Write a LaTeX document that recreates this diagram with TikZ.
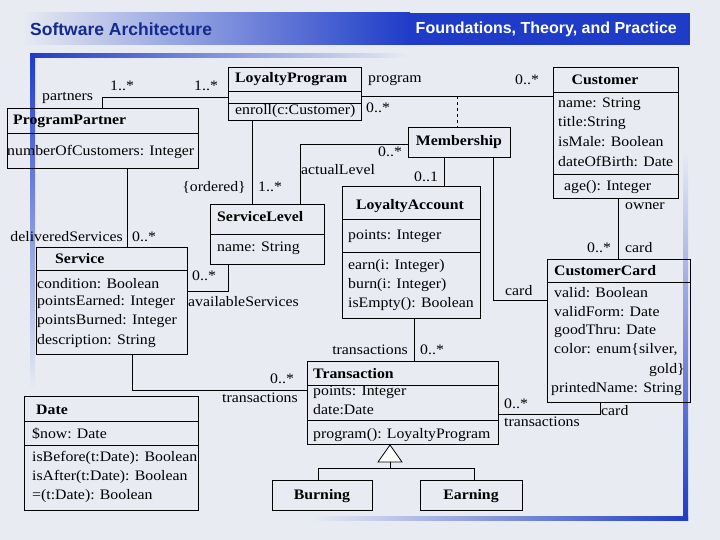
\documentclass[tikz,border=0pt]{standalone}
\usepackage{fontspec}
\setmainfont[FakeStretch=1.09]{Liberation Serif}
\newfontfamily\hdr{Liberation Sans}
\definecolor{bg}{HTML}{E8ECF2}
\definecolor{fb}{HTML}{1E3CC8}
\begin{document}
\begin{tikzpicture}[x=1pt,y=-1pt,
  box/.style={draw,line width=0.8pt,anchor=north west,inner sep=0pt,outer sep=0pt},
  ln/.style={line width=0.8pt},
  t/.style={anchor=west,inner sep=0pt,font=\fontsize{14.5}{16}\selectfont},
  tr/.style={anchor=east,inner sep=0pt,font=\fontsize{14.5}{16}\selectfont},
  tb/.style={t,font=\fontsize{14.5}{16}\selectfont\bfseries},
  tc/.style={inner sep=0pt,font=\fontsize{14.5}{16}\selectfont\bfseries}]
\fill[bg] (0,0) rectangle (720,540);
\useasboundingbox (0,0) rectangle (720,540);
% header
\shade[left color=bg,right color=fb] (20,13) rectangle (410,45);
\fill[fb] (409,13) rectangle (690,45);
\node[anchor=west,inner sep=0pt,text=fb!70!black,font=\hdr\bfseries\fontsize{17.5}{19}\selectfont] (t1) at (30,29) {Software Architecture};
\node[anchor=east,inner sep=0pt,text=white,font=\hdr\bfseries\fontsize{16}{18}\selectfont] (t2) at (677,29) {Foundations, Theory, and Practice};
% frame
\shade[left color=fb,right color=bg] (30,54) rectangle (410,58);
\shade[top color=fb,bottom color=bg] (30,54) rectangle (35,390);
\shade[top color=bg,bottom color=fb] (683,150) rectangle (688,520);
\shade[left color=bg,right color=fb] (310,516) rectangle (688,520);
% boxes
\node[box,minimum width=133,minimum height=53] (lp) at (228,67) {};
\draw[ln] (228,91) -- (361,91) (228,103) -- (361,103);
\node[tb] at (235,79) {LoyaltyProgram};
\node[t] at (235,111) {enroll(c:Customer)};

\node[box,minimum width=191,minimum height=60] (pp) at (7,108) {};
\draw[ln] (7,133) -- (198,133);
\node[tb] at (13,121) {ProgramPartner};
\node[t] at (7,152) {numberOfCustomers: Integer};

\node[box,minimum width=151,minimum height=107] (sv) at (36,247) {};
\draw[ln] (36,270) -- (187,270);
\node[tb] at (55,259) {Service};
\node[t] at (37,284) {condition: Boolean};
\node[t] at (37,302) {pointsEarned: Integer};
\node[t] at (37,321) {pointsBurned: Integer};
\node[t] at (37,341) {description: String};

\node[box,minimum width=114,minimum height=60] (sl) at (210,204) {};
\draw[ln] (210,234) -- (324,234);
\node[tb] at (217,217) {ServiceLevel};
\node[t] at (217,248) {name: String};

\node[box,minimum width=102,minimum height=30] (ms) at (408,127) {};
\node[tc] at (459,142) {Membership};

\node[box,minimum width=125,minimum height=131] (cu) at (553,67) {};
\draw[ln] (553,92) -- (678,92) (553,174) -- (678,174);
\node[tc] at (605,80) {Customer};
\node[t] at (558,104) {name: String};
\node[t] at (558,123) {title:String};
\node[t] at (558,142) {isMale: Boolean};
\node[t] at (558,161) {dateOfBirth: Date};
\node[t] at (564,187) {age(): Integer};

\node[box,minimum width=138,minimum height=132] (la) at (342,186) {};
\draw[ln] (342,219) -- (480,219) (342,252) -- (480,252);
\node[tc] at (410,206) {LoyaltyAccount};
\node[t] at (348,236) {points: Integer};
\node[t] at (348,266) {earn(i: Integer)};
\node[t] at (348,285) {burn(i: Integer)};
\node[t] at (348,304) {isEmpty(): Boolean};

\node[box,minimum width=143,minimum height=143] (cc) at (547,259) {};
\draw[ln] (547,282) -- (690,282);
\node[tb] at (554,271) {CustomerCard};
\node[t] at (554,293) {valid: Boolean};
\node[t] at (554,312) {validForm: Date};
\node[t] at (554,331) {goodThru: Date};
\node[t] at (554,350) {color: enum\{silver,};
\node[tr] at (685,370) {gold\}};
\node[t] at (551,389) {printedName: String};

\node[box,minimum width=191,minimum height=83] (tr) at (307,361) {};
\draw[ln] (307,385) -- (498,385) (307,420) -- (498,420);
\node[tb] at (313,374) {Transaction};
\node[t] at (313,392) {points: Integer};
\node[t] at (313,410) {date:Date};
\node[t] at (313,435) {program(): LoyaltyProgram};

\node[box,minimum width=174,minimum height=114] (dt) at (24,396) {};
\draw[ln] (24,421) -- (198,421) (24,445) -- (198,445);
\node[tb] at (36,410) {Date};
\node[t] at (32,434) {\$now: Date};
\node[t] at (32,458) {isBefore(t:Date): Boolean};
\node[t] at (32,477) {isAfter(t:Date): Boolean};
\node[t] at (32,496) {=(t:Date): Boolean};

\node[box,minimum width=100,minimum height=30] (bu) at (272,480) {};
\node[tc] at (322,496) {Burning};
\node[box,minimum width=102,minimum height=30] (ea) at (420,480) {};
\node[tc] at (471,496) {Earning};

% connectors
\coordinate (pa) at (102,97);
\draw[ln] (pp.north west) ++(95,0) |- (lp.west |- pa);
\node[t] at (42,98) {partners};
\node[t] at (110,86) {1..*};
\node[t] at (194,86) {1..*};

\draw[ln] (127,168) -- (127,247);
\node[tr] at (123,237) {deliveredServices};
\node[t] at (132,237) {0..*};

\draw[ln] (252,120) -- (252,204);
\node[tr] at (246,187) {\{ordered\}};
\node[t] at (258,187) {1..*};

\draw[ln] (228,264) |- (187,291);
\node[t] at (192,276) {0..*};
\node[t] at (188,302) {availableServices};

\draw[ln] (300,204) |- (408,144);
\node[t] at (301,170) {actualLevel};
\node[t] at (378,152) {0..*};

\draw[ln] (361,96) -- (553,96);
\draw[ln,dashed] (457,96) -- (457,127);
\node[t] at (368,80) {program};
\node[t] at (366,108) {0..*};
\node[t] at (515,80) {0..*};

\draw[ln] (444,157) -- (444,186);
\node[t] at (414,177) {0..1};

\draw[ln] (493,157) |- (547,300);
\node[t] at (505,291) {card};

\draw[ln] (618,198) -- (618,259);
\node[t] at (625,206) {owner};
\node[t] at (587,248) {0..*};
\node[t] at (625,248) {card};

\draw[ln] (414,318) -- (414,361);
\node[tr] at (408,350) {transactions};
\node[t] at (420,350) {0..*};

\draw[ln] (498,414) -| (600,402);
\node[t] at (504,404) {0..*};
\node[t] at (504,422) {transactions};
\node[t] at (601,411) {card};

\draw[ln] (132,354) |- (307,390);
\node[t] at (270,379) {0..*};
\node[t] at (222,398) {transactions};

% generalization
\draw[ln,fill=white] (390,445) -- (402,462) -- (378,462) -- cycle;
\draw[ln] (390,462) -- (390,468) (318,480) |- (474,468) -- (474,480);
\end{tikzpicture}
\end{document}
